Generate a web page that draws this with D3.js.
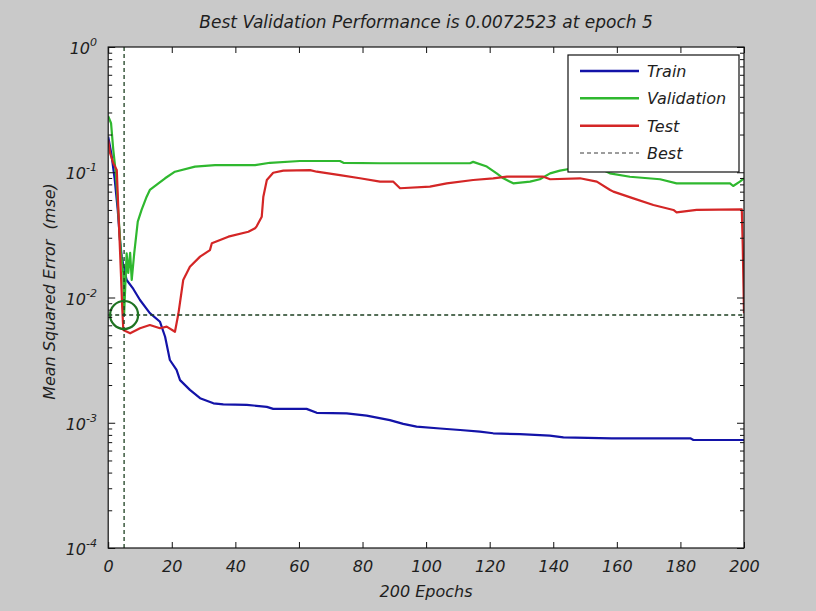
<!DOCTYPE html>
<html>
<head>
<meta charset="utf-8">
<script src="https://cdn.jsdelivr.net/npm/d3@7"></script>
<style>
  html, body { margin: 0; padding: 0; background: #c9c9c9; }
  svg text { font-family: "DejaVu Sans", sans-serif; font-style: italic; fill: #1e1e1e; }
</style>
</head>
<body>
<svg id="chart" width="816" height="611"></svg>
<script>
// Training record: mean squared error per epoch (breakpoints of each curve)
const trainEpochs = [0, 1, 2, 3, 3.7, 4.25, 5.06, 5.8, 7.9, 10.0, 13.1, 16.3, 17.9, 19.4, 21.5, 22.6, 25.7, 28.9, 33.1, 36.2, 43.6, 49.9, 51.9, 62.4, 65.6, 75.0, 81.3, 88.6, 92.8, 97.0, 104.4, 110.7, 116.9, 121.1, 129.5, 138.9, 143.2, 158.4, 183.1, 184.1, 200];
const trainMse = [0.192, 0.14, 0.09, 0.05, 0.0288, 0.0212, 0.0166, 0.0138, 0.0117, 0.00955, 0.0075, 0.0064, 0.00486, 0.00317, 0.00264, 0.00219, 0.00183, 0.00157, 0.00143, 0.0014, 0.00139, 0.00134, 0.00129, 0.00129, 0.0012, 0.00119, 0.00114, 0.00105, 0.00098, 0.00093, 0.0009, 0.000875, 0.00085, 0.000824, 0.00081, 0.000788, 0.000765, 0.000751, 0.000751, 0.000728, 0.000728];

const valEpochs = [0, 0.9, 1.6, 2.4, 3.2, 4.0, 4.75, 5, 5.8, 6.3, 6.9, 7.4, 8.2, 9.3, 10.5, 12.1, 13.1, 15.8, 17.9, 21.0, 27.3, 33.6, 46.2, 50.9, 60.3, 72.9, 74.0, 85.5, 113.8, 114.8, 119.1, 122.2, 124.3, 127.4, 132.7, 135.8, 139.0, 142.1, 146.3, 155.7, 157.8, 164.1, 173.6, 178.8, 195.6, 196.6, 198.7, 200];
const valMse = [0.28, 0.246, 0.151, 0.0986, 0.0473, 0.0227, 0.0157, 0.0072523, 0.0225, 0.0157, 0.0227, 0.0138, 0.0227, 0.0403, 0.05, 0.0638, 0.0722, 0.0816, 0.0895, 0.101, 0.111, 0.114, 0.114, 0.119, 0.123, 0.123, 0.119, 0.118, 0.118, 0.121, 0.111, 0.098, 0.0895, 0.0816, 0.0841, 0.0879, 0.098, 0.103, 0.1076, 0.104, 0.098, 0.0921, 0.0879, 0.0816, 0.0816, 0.0777, 0.0841, 0.0895];

const testEpochs = [0, 0.6, 1.6, 2.7, 3.2, 4.0, 4.4, 4.75, 6.9, 10.0, 13.1, 16.3, 18.4, 21.0, 22.1, 23.6, 25.7, 28.9, 32.0, 32.6, 37.8, 44.1, 46.2, 46.7, 48.3, 48.8, 49.9, 51.9, 55.1, 63.5, 65.6, 72.9, 79.2, 85.5, 89.7, 91.8, 101.2, 106.5, 114.8, 121.1, 125.4, 136.9, 139.0, 148.4, 153.7, 157.9, 158.9, 165.2, 171.5, 177.8, 178.8, 185.1, 199.3, 199.6, 200];
const testMse = [0.18, 0.142, 0.118, 0.104, 0.05, 0.0156, 0.00845, 0.0055, 0.00518, 0.00568, 0.00603, 0.00568, 0.00585, 0.00533, 0.00748, 0.0138, 0.0176, 0.0212, 0.0239, 0.0271, 0.0306, 0.0335, 0.0357, 0.037, 0.0442, 0.0638, 0.0867, 0.0991, 0.103, 0.104, 0.101, 0.095, 0.0895, 0.0841, 0.0841, 0.0745, 0.0767, 0.0816, 0.0867, 0.0895, 0.0922, 0.0922, 0.0879, 0.0895, 0.0841, 0.0722, 0.07, 0.0619, 0.0548, 0.05, 0.0479, 0.05, 0.0506, 0.026, 0.0075];

const bestEpoch = 5;
const bestPerf = 0.0072523;
const totalEpochs = 200;

const xTicks = [0, 20, 40, 60, 80, 100, 120, 140, 160, 180, 200];
const yDecades = [1e-4, 1e-3, 1e-2, 1e-1, 1];
const yExponents = ["-4", "-3", "-2", "-1", "0"];

const legendNames = ["Train", "Validation", "Test", "Best"];
const seriesColors = ["#1313a8", "#2fb82f", "#d42626"];
const bestColor = "#1c3f20";
const circleColor = "#1f7322";

// ---- layout ----
const svg = d3.select("#chart");
const W = 816, H = 611;
const plot = { left: 108.2, right: 744, top: 47, bottom: 548 };

const x = d3.scaleLinear().domain([0, totalEpochs]).range([plot.left, plot.right]);
const y = d3.scaleLog().domain([1e-4, 1]).range([plot.bottom, plot.top]);

svg.append("rect").attr("width", W).attr("height", H).attr("fill", "#c9c9c9");
svg.append("rect")
  .attr("x", plot.left).attr("y", plot.top)
  .attr("width", plot.right - plot.left).attr("height", plot.bottom - plot.top)
  .attr("fill", "#ffffff");

// ---- curves ----
svg.append("clipPath").attr("id", "plotclip").append("rect")
  .attr("x", plot.left).attr("y", plot.top)
  .attr("width", plot.right - plot.left).attr("height", plot.bottom - plot.top);

const lines = svg.append("g").attr("clip-path", "url(#plotclip)");
const lineGen = d3.line().x(d => x(d[0])).y(d => y(d[1]));

const series = [
  d3.zip(trainEpochs, trainMse),
  d3.zip(valEpochs, valMse),
  d3.zip(testEpochs, testMse)
];
series.forEach((pts, i) => {
  lines.append("path")
    .attr("d", lineGen(pts))
    .attr("fill", "none")
    .attr("stroke", seriesColors[i])
    .attr("stroke-width", 2.2)
    .attr("stroke-linejoin", "round");
});

// best-epoch markers
lines.append("line")
  .attr("x1", x(0)).attr("x2", x(totalEpochs))
  .attr("y1", y(bestPerf)).attr("y2", y(bestPerf))
  .attr("stroke", bestColor).attr("stroke-width", 1.3).attr("stroke-dasharray", "4,3");
lines.append("line")
  .attr("x1", x(bestEpoch)).attr("x2", x(bestEpoch))
  .attr("y1", y(1e-4)).attr("y2", y(1))
  .attr("stroke", bestColor).attr("stroke-width", 1.3).attr("stroke-dasharray", "4,3");
svg.append("circle")
  .attr("cx", x(bestEpoch)).attr("cy", y(bestPerf)).attr("r", 14)
  .attr("fill", "none").attr("stroke", circleColor).attr("stroke-width", 2.2);

// ---- axes ----
const axisColor = "#111";
const styleAxis = g => {
  g.select(".domain").remove();
  g.selectAll(".tick line").attr("stroke", axisColor);
};

const gx = svg.append("g").attr("transform", `translate(0,${plot.bottom})`)
  .call(d3.axisBottom(x).tickValues(xTicks).tickSizeInner(-6).tickSizeOuter(0).tickPadding(13).tickFormat(d3.format("d")))
  .call(styleAxis);
gx.selectAll(".tick text").attr("font-size", 16).attr("fill", "#1e1e1e")
  .attr("font-family", "DejaVu Sans").attr("font-style", "italic");

svg.append("g").attr("transform", `translate(0,${plot.top})`)
  .call(d3.axisTop(x).tickValues(xTicks).tickSizeInner(-6).tickSizeOuter(0).tickFormat(""))
  .call(styleAxis);

const minorVals = [];
yDecades.slice(0, -1).forEach(d => { for (let m = 2; m <= 9; m++) minorVals.push(d * m); });

[[d3.axisLeft, plot.left], [d3.axisRight, plot.right]].forEach(([ax, xpos]) => {
  svg.append("g").attr("transform", `translate(${xpos},0)`)
    .call(ax(y).tickValues(yDecades).tickSizeInner(-7).tickSizeOuter(0).tickFormat(""))
    .call(styleAxis);
  svg.append("g").attr("transform", `translate(${xpos},0)`)
    .call(ax(y).tickValues(minorVals).tickSizeInner(-4).tickSizeOuter(0).tickFormat(""))
    .call(styleAxis);
});

// y tick labels as 10 with superscript exponent
const yLab = svg.append("g");
yDecades.forEach((d, i) => {
  const t = yLab.append("text")
    .attr("x", 97).attr("y", y(d) + 7)
    .attr("text-anchor", "end")
    .attr("font-size", 16);
  t.append("tspan").text("10");
  t.append("tspan").attr("dy", -8).attr("font-size", 11).text(yExponents[i]);
});

// frame
svg.append("rect")
  .attr("x", plot.left).attr("y", plot.top)
  .attr("width", plot.right - plot.left).attr("height", plot.bottom - plot.top)
  .attr("fill", "none").attr("stroke", axisColor).attr("stroke-width", 1.2);

// ---- titles ----
svg.append("text")
  .attr("x", (plot.left + plot.right) / 2).attr("y", 28)
  .attr("text-anchor", "middle").attr("font-size", 17)
  .text(`Best Validation Performance is ${bestPerf} at epoch ${bestEpoch}`);

svg.append("text")
  .attr("x", (plot.left + plot.right) / 2).attr("y", 597)
  .attr("text-anchor", "middle").attr("font-size", 16)
  .text(`${totalEpochs} Epochs`);

svg.append("text")
  .attr("transform", `translate(55,${(plot.top + plot.bottom) / 2 - 6}) rotate(-90)`)
  .attr("text-anchor", "middle").attr("font-size", 16)
  .style("white-space", "pre")
  .text("Mean Squared Error  (mse)");

// ---- legend ----
const lg = svg.append("g");
const lgBox = { x: 568, y: 55, w: 171, h: 117 };
lg.append("rect")
  .attr("x", lgBox.x).attr("y", lgBox.y).attr("width", lgBox.w).attr("height", lgBox.h)
  .attr("fill", "#fff").attr("stroke", axisColor).attr("stroke-width", 1.2);
const rowY = d3.scalePoint().domain(legendNames).range([71, 153]);
legendNames.forEach((name, i) => {
  const yy = rowY(name);
  const ln = lg.append("line")
    .attr("x1", 580).attr("x2", 639).attr("y1", yy).attr("y2", yy);
  if (i < 3) {
    ln.attr("stroke", seriesColors[i]).attr("stroke-width", 2.5);
  } else {
    ln.attr("stroke", "#3a3a3a").attr("stroke-width", 1).attr("stroke-dasharray", "4,3");
  }
  lg.append("text").attr("x", 647).attr("y", yy + 6).attr("font-size", 16).text(name);
});
</script>
</body>
</html>
